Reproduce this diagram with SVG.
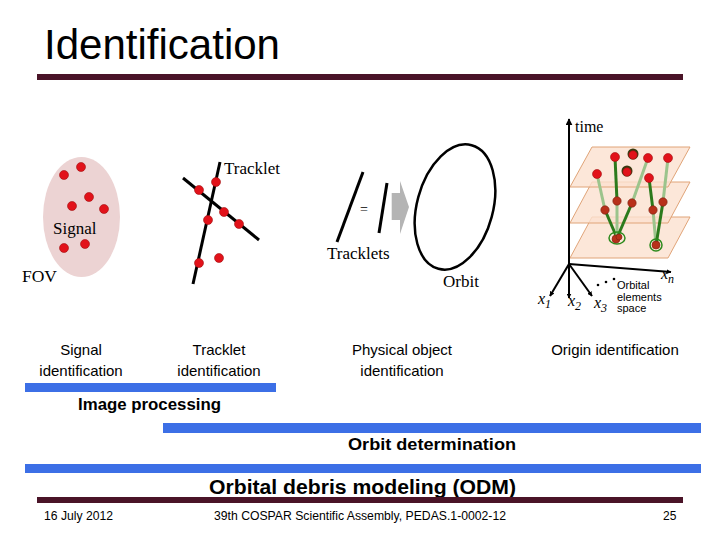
<svg xmlns="http://www.w3.org/2000/svg" width="720" height="540" viewBox="0 0 720 540">
<defs>
<style>
.sans{font-family:"Liberation Sans",Arial,sans-serif;fill:#000}
.serif{font-family:"Liberation Serif","Times New Roman",serif;fill:#000}
.red{fill:#e2121a;stroke:#a01010;stroke-width:0.6}
.dred{fill:#b8301a;stroke:#7a2010;stroke-width:0.6}
.bar{fill:#3c6fe6}
.maroon{fill:#4a1428}
.ln{stroke:#000;stroke-width:3;fill:none;stroke-linecap:butt}
.plane{fill:#fbe1cf;fill-opacity:0.8;stroke:#e0a478;stroke-width:1}
.lg{stroke:#9cc48c;stroke-width:3;fill:none}
.dg{stroke:#2c7a1c;stroke-width:3;fill:none}
.ring{fill:none;stroke:#2c8a1c;stroke-width:1.5}
.ax{stroke:#000;stroke-width:2;fill:none}
</style>
<marker id="ah" viewBox="0 0 10 10" refX="9" refY="5" markerWidth="5" markerHeight="5" orient="auto" markerUnits="userSpaceOnUse">
<path d="M0,0 L10,5 L0,10 z" fill="#000"/>
</marker>
<marker id="ah2" viewBox="0 0 10 10" refX="9" refY="5" markerWidth="7" markerHeight="7" orient="auto" markerUnits="userSpaceOnUse">
<path d="M0,0 L10,5 L0,10 z" fill="#000"/>
</marker>
</defs>
<rect width="720" height="540" fill="#fff"/>

<g id="title">
<text class="sans" x="44" y="59" font-size="42" textLength="236" lengthAdjust="spacingAndGlyphs">Identification</text>
<rect class="maroon" x="37" y="74" width="646" height="6"/>
</g>

<g id="fov">
<ellipse cx="81.5" cy="217" rx="38.5" ry="60" fill="#ecd3d3"/>
<circle class="red" cx="64" cy="175" r="4.5"/>
<circle class="red" cx="81" cy="167" r="4.5"/>
<circle class="red" cx="89" cy="197" r="4.5"/>
<circle class="red" cx="72" cy="206" r="4.5"/>
<circle class="red" cx="104" cy="209" r="4.5"/>
<circle class="red" cx="64" cy="248" r="4.5"/>
<circle class="red" cx="85" cy="244" r="4.5"/>
<text class="serif" x="53" y="234" font-size="17">Signal</text>
<text class="serif" x="22" y="282" font-size="17.5">FOV</text>
</g>

<g id="tracklet">
<line class="ln" x1="183" y1="178" x2="259" y2="240"/>
<line class="ln" x1="220" y1="162" x2="193" y2="284"/>
<circle class="red" cx="199" cy="190" r="4.5"/>
<circle class="red" cx="216" cy="182" r="4.5"/>
<circle class="red" cx="224" cy="212" r="4.5"/>
<circle class="red" cx="239" cy="224" r="4.5"/>
<circle class="red" cx="208" cy="220" r="4.5"/>
<circle class="red" cx="199" cy="263" r="4.5"/>
<circle class="red" cx="219" cy="258" r="4.5"/>
<text class="serif" x="224" y="174" font-size="17">Tracklet</text>
</g>

<g id="orbit">
<line class="ln" x1="363" y1="172" x2="337" y2="242"/>
<text class="serif" x="360" y="214" font-size="14">=</text>
<line class="ln" x1="387" y1="183" x2="379" y2="233"/>
<polygon points="391.7,193 400,193 400,181 409,207 400,234 400,220 391.7,220" fill="#b4b4b4"/>
<ellipse cx="455" cy="207" rx="38" ry="64" transform="rotate(15 455 207)" fill="none" stroke="#000" stroke-width="2.5"/>
<text class="serif" x="327" y="259" font-size="17">Tracklets</text>
<text class="serif" x="443" y="287" font-size="17">Orbit</text>
</g>

<g id="orbital-space">
<polygon class="plane" points="570,258 592,217 690,217 668,258"/>
<polygon class="plane" points="570,223 592,182 690,182 668,223"/>
<polygon class="plane" points="570,187 592,147 690,147 668,187"/>
<line class="ax" x1="569" y1="264" x2="569" y2="119" marker-end="url(#ah2)"/>
<line class="ax" x1="569" y1="264" x2="550" y2="296" marker-end="url(#ah)"/>
<line class="ax" x1="569" y1="264" x2="569" y2="298" marker-end="url(#ah)"/>
<line class="ax" x1="569" y1="264" x2="592" y2="296" marker-end="url(#ah)"/>
<line class="ax" x1="569" y1="264" x2="671" y2="272" marker-end="url(#ah)"/>
<polyline class="lg" points="597,174 605,210"/>
<polyline class="dg" points="605,210 617,238"/>
<polyline class="dg" points="615,157 617,201"/>
<polyline class="lg" points="617,201 617,238"/>
<polyline class="lg" points="648,158 632,203"/>
<polyline class="dg" points="632,203 617,238"/>
<polyline class="dg" points="649,178 653,210"/>
<polyline class="lg" points="653,210 656,245"/>
<polyline class="lg" points="668,158 663,202"/>
<polyline class="dg" points="663,202 656,245"/>
<ellipse class="ring" cx="617" cy="238" rx="8" ry="6"/>
<ellipse class="ring" cx="656" cy="245" rx="6" ry="6"/>
<circle class="dred" cx="616" cy="239" r="4"/>
<circle class="dred" cx="619" cy="237" r="3"/>
<circle class="dred" cx="656" cy="245" r="4"/>
<circle class="dred" cx="605" cy="210" r="4.2"/>
<circle class="dred" cx="617" cy="201" r="4.2"/>
<circle class="dred" cx="632" cy="203" r="4.2"/>
<circle class="dred" cx="653" cy="210" r="4.2"/>
<circle class="dred" cx="663" cy="202" r="4.2"/>
<circle class="red" cx="597" cy="174" r="4.5"/>
<circle class="red" cx="615" cy="157" r="4.5"/>
<circle class="red" cx="648" cy="158" r="4.5"/>
<circle class="red" cx="668" cy="158" r="4.5"/>
<circle class="red" cx="649" cy="178" r="4.5"/>
<circle cx="633" cy="154" r="5.5" fill="#3a3a10"/>
<circle class="red" cx="633" cy="155" r="4.2"/>
<circle cx="627" cy="171" r="5.5" fill="#3a3a10"/>
<circle class="red" cx="627" cy="172" r="4.2"/>
<text class="serif" x="575" y="132" font-size="16">time</text>
<text class="serif" font-style="italic" x="538" y="304" font-size="16">x<tspan font-size="12" dy="4">1</tspan></text>
<text class="serif" font-style="italic" x="568" y="306" font-size="16">x<tspan font-size="12" dy="4">2</tspan></text>
<text class="serif" font-style="italic" x="594" y="308" font-size="16">x<tspan font-size="12" dy="4">3</tspan></text>
<text class="serif" font-style="italic" x="661" y="279" font-size="16">x<tspan font-size="12" dy="4">n</tspan></text>
<circle cx="598" cy="285" r="1.3" fill="#000"/>
<circle cx="606" cy="282" r="1.3" fill="#000"/>
<circle cx="614" cy="279" r="1.3" fill="#000"/>
<text class="sans" x="617" y="289" font-size="11">Orbital</text>
<text class="sans" x="617" y="300.5" font-size="11">elements</text>
<text class="sans" x="617" y="312" font-size="11">space</text>
</g>

<g id="stage-labels" class="sans" font-size="15" text-anchor="middle">
<text class="sans" x="81" y="355">Signal</text>
<text class="sans" x="81" y="376">identification</text>
<text class="sans" x="219" y="355">Tracklet</text>
<text class="sans" x="219" y="376">identification</text>
<text class="sans" x="402" y="355">Physical object</text>
<text class="sans" x="402" y="376">identification</text>
<text class="sans" x="615" y="355">Origin identification</text>
</g>

<g id="phases">
<rect class="bar" x="25" y="383" width="251" height="9"/>
<text class="sans" x="78" y="410" font-size="16" font-weight="bold" textLength="143" lengthAdjust="spacingAndGlyphs">Image processing</text>
<rect class="bar" x="163" y="423" width="538" height="10"/>
<text class="sans" x="348" y="450" font-size="16" font-weight="bold" textLength="168" lengthAdjust="spacingAndGlyphs">Orbit determination</text>
<rect class="bar" x="25" y="464" width="676" height="9"/>
<text class="sans" x="209" y="494" font-size="20" font-weight="bold" textLength="307" lengthAdjust="spacingAndGlyphs">Orbital debris modeling (ODM)</text>
</g>

<g id="footer">
<rect class="maroon" x="37" y="497" width="646" height="6"/>
<text class="sans" x="44" y="520" font-size="12" fill="#333" textLength="69" lengthAdjust="spacingAndGlyphs">16 July 2012</text>
<text class="sans" x="214" y="520" font-size="12" textLength="292" lengthAdjust="spacingAndGlyphs">39th COSPAR Scientific Assembly, PEDAS.1-0002-12</text>
<text class="sans" x="663" y="520" font-size="12">25</text>
</g>
</svg>
